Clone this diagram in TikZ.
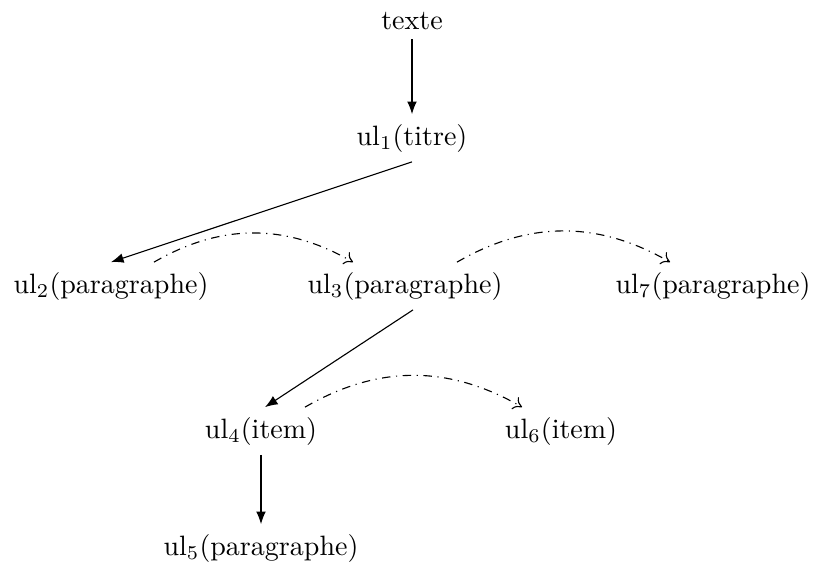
\documentclass[tikz,border=0pt]{standalone}
\usetikzlibrary{calc,arrows.meta}
\begin{document}
\begin{tikzpicture}[x=0.3571pt,y=-0.3571pt,
  lbl/.style={anchor=base,inner sep=3.33pt},
  tree/.style={-{Latex[length=4.5pt,width=3.5pt]}},
  seq/.style={dashdotted,-{To[length=3pt,width=5pt]},bend left=30}]
\useasboundingbox (0,0) rectangle (814,563);
\node[lbl] (t)  at (412,29)  {texte};
\node[lbl] (u1) at (412,145) {ul$_1$(titre)};
\node[lbl] (u2) at (111,293) {ul$_2$(paragraphe)};
\node[lbl] (u3) at (405,293) {ul$_3$(paragraphe)};
\node[lbl] (u7) at (713,293) {ul$_7$(paragraphe)};
\node[lbl] (u4) at (261,438) {ul$_4$(item)};
\node[lbl] (u6) at (561,438) {ul$_6$(item)};
\node[lbl] (u5) at (261,555) {ul$_5$(paragraphe)};
\draw[tree] (t.south) -- (u1.north);
\draw[tree] (u1.south) -- (u2.north);
\draw[tree] ($(u3.south)+(8,0)$) -- ($(u4.north)+(4,0)$);
\draw[tree] (u4.south) -- (u5.north);
\draw[seq] ($(u2.north)+(43,0)$) to ($(u3.north)+(-52,0)$);
\draw[seq] ($(u3.north)+(52,0)$) to ($(u7.north)+(-43,0)$);
\draw[seq] ($(u4.north)+(44,0)$) to ($(u6.north)+(-39,0)$);
\end{tikzpicture}
\end{document}
